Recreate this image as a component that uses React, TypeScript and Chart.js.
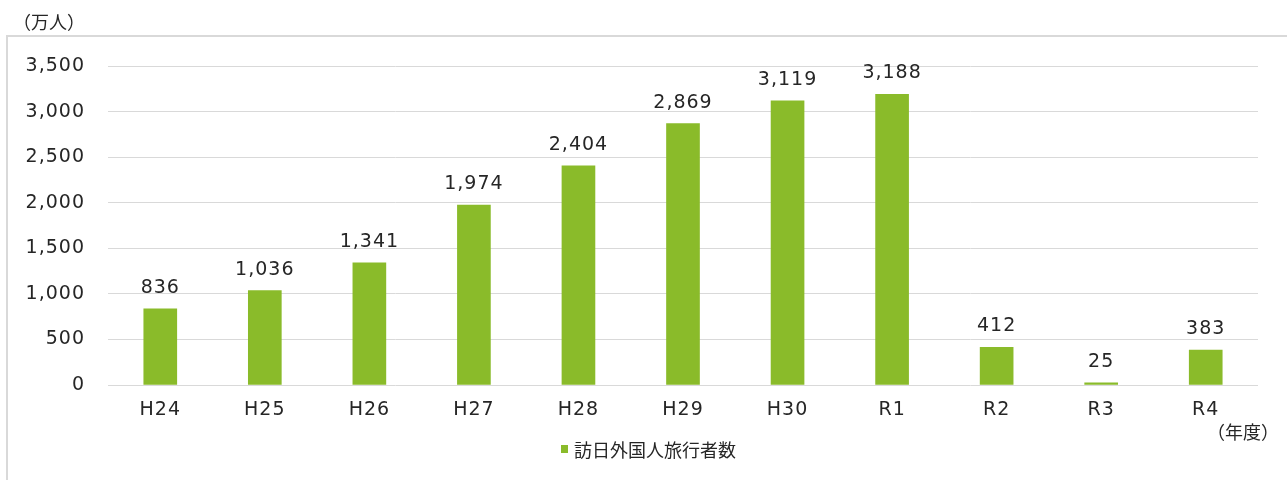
import React, { useEffect, useRef } from "react";
import { Chart, registerables } from "chart.js";

Chart.register(...registerables);

const categories = ["H24", "H25", "H26", "H27", "H28", "H29", "H30", "R1", "R2", "R3", "R4"];
const visitors = [836, 1036, 1341, 1974, 2404, 2869, 3119, 3188, 412, 25, 383];
const seriesName = "訪日外国人旅行者数";
const yUnit = "（万人）";
const xUnit = "（年度）";

const FONT = "'DejaVu Sans', 'Noto Sans CJK JP', sans-serif";
const CJK = "'Noto Sans CJK JP', sans-serif";
const TEXT = "#262626";
const BAR = "#8abb2a";
const GRID = "#d9d9d9";

const decorPlugin = {
  id: "decor",
  beforeDraw(chart: any) {
    const ctx = chart.ctx;
    ctx.save();
    ctx.fillStyle = "#ffffff";
    ctx.fillRect(0, 0, chart.width, chart.height);
    ctx.strokeStyle = GRID;
    ctx.lineWidth = 2;
    ctx.strokeRect(7, 36, chart.width + 20, chart.height + 20);
    ctx.restore();
  },
  afterDatasetsDraw(chart: any) {
    const ctx = chart.ctx;
    const meta = chart.getDatasetMeta(0);
    ctx.save();
    (ctx as any).letterSpacing = "1px";
    ctx.fillStyle = TEXT;
    ctx.font = `19px ${FONT}`;
    ctx.textAlign = "center";
    ctx.textBaseline = "alphabetic";
    meta.data.forEach((bar: any, i: number) => {
      ctx.fillText(visitors[i].toLocaleString("en-US"), bar.x, bar.y - 16);
    });
    // units
    (ctx as any).letterSpacing = "0px";
    ctx.font = `18px ${CJK}`;
    ctx.textAlign = "left";
    ctx.textBaseline = "middle";
    ctx.fillText(yUnit, 13, 22);
    ctx.fillText(xUnit, 1207, 432);
    // legend
    ctx.fillStyle = BAR;
    ctx.fillRect(561, 445, 7, 8);
    ctx.fillStyle = TEXT;
    ctx.font = `18px ${CJK}`;
    ctx.fillText(seriesName, 574, 450);
    ctx.restore();
  },
};

export default function App() {
  const ref = useRef<HTMLCanvasElement | null>(null);
  useEffect(() => {
    if (!ref.current) return;
    const chart = new Chart(ref.current, {
      type: "bar",
      data: {
        labels: categories,
        datasets: [
          {
            label: seriesName,
            data: visitors,
            backgroundColor: BAR,
            barThickness: 33,
          },
        ],
      },
      options: {
        animation: false,
        responsive: false,
        devicePixelRatio: 1,
        layout: { padding: { top: 66, right: 29, left: 0, bottom: 0 } },
        plugins: { legend: { display: false }, tooltip: { enabled: false } },
        scales: {
          x: {
            grid: { display: false },
            border: { display: false },
            ticks: {
              color: TEXT,
              font: { family: FONT, size: 19 },
              padding: 6,
              maxRotation: 0,
            },
            afterFit(scale: any) {
              scale.height = 95;
            },
          },
          y: {
            min: 0,
            max: 3500,
            grid: { color: GRID, lineWidth: 1, drawTicks: false },
            border: { display: false },
            ticks: {
              stepSize: 500,
              color: TEXT,
              font: { family: FONT, size: 19 },
              padding: 23,
              callback: (v: any) => Number(v).toLocaleString("en-US"),
            },
            afterFit(scale: any) {
              scale.width = 108;
            },
          },
        },
      },
      plugins: [
        {
          id: "spacing",
          beforeDraw(chart: any) {
            (chart.ctx as any).letterSpacing = "1px";
          },
        },
        decorPlugin,
      ],
    });
    return () => chart.destroy();
  }, []);
  return (
    <div style={{ position: "fixed", left: 0, top: 0, width: 1287, height: 480, background: "#fff" }}>
      <canvas ref={ref} width={1287} height={480} style={{ width: 1287, height: 480, display: "block" }} />
    </div>
  );
}
